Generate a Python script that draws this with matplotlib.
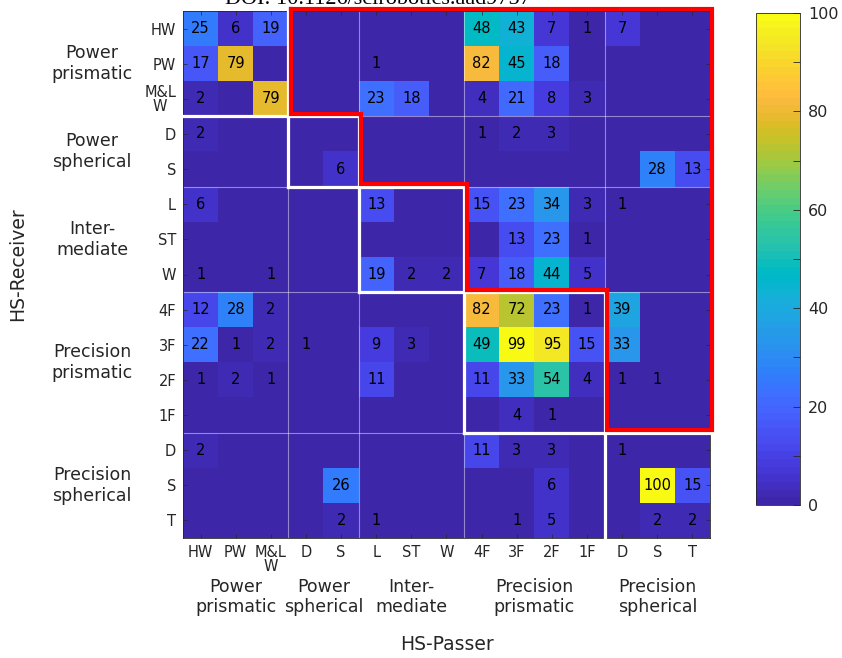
import numpy as np
import matplotlib
matplotlib.use("Agg")
import matplotlib.pyplot as plt
from matplotlib.colors import ListedColormap

# ---- data -------------------------------------------------------------
hand_shapes = ["HW", "PW", "M&L\nW", "D", "S", "L", "ST", "W",
               "4F", "3F", "2F", "1F", "D", "S", "T"]
group_names = ["Power\nprismatic", "Power\nspherical", "Inter-\nmediate",
               "Precision\nprismatic", "Precision\nspherical"]
group_sizes = [3, 2, 3, 4, 3]

# rows: receiver hand shape, columns: passer hand shape (None = no entry)
_ = None
counts = [
    [25, 6, 19, _, _, _, _, _, 48, 43, 7, 1, 7, _, _],      # HW
    [17, 79, _, _, _, 1, _, _, 82, 45, 18, _, _, _, _],     # PW
    [2, _, 79, _, _, 23, 18, _, 4, 21, 8, 3, _, _, _],      # M&L W
    [2, _, _, _, _, _, _, _, 1, 2, 3, _, _, _, _],          # D
    [_, _, _, _, 6, _, _, _, _, _, _, _, _, 28, 13],        # S
    [6, _, _, _, _, 13, _, _, 15, 23, 34, 3, 1, _, _],      # L
    [_, _, _, _, _, _, _, _, _, 13, 23, 1, _, _, _],        # ST
    [1, _, 1, _, _, 19, 2, 2, 7, 18, 44, 5, _, _, _],       # W
    [12, 28, 2, _, _, _, _, _, 82, 72, 23, 1, 39, _, _],    # 4F
    [22, 1, 2, 1, _, 9, 3, _, 49, 99, 95, 15, 33, _, _],    # 3F
    [1, 2, 1, _, _, 11, _, _, 11, 33, 54, 4, 1, 1, _],      # 2F
    [_, _, _, _, _, _, _, _, _, 4, 1, _, _, _, _],          # 1F
    [2, _, _, _, _, _, _, _, 11, 3, 3, _, 1, _, _],         # D
    [_, _, _, _, 26, _, _, _, _, _, 6, _, _, 100, 15],      # S
    [_, _, _, _, 2, 1, _, _, _, 1, 5, _, _, 2, 2],          # T
]

# ---- parula colormap (64 levels) ---------------------------------------
parula_rgb = [
    [0.2422, 0.1504, 0.6603], [0.2504, 0.1650, 0.7076], [0.2578, 0.1818, 0.7511],
    [0.2647, 0.1978, 0.7952], [0.2706, 0.2147, 0.8364], [0.2751, 0.2342, 0.8710],
    [0.2783, 0.2559, 0.8991], [0.2803, 0.2782, 0.9221], [0.2813, 0.3006, 0.9414],
    [0.2810, 0.3228, 0.9579], [0.2795, 0.3447, 0.9717], [0.2760, 0.3667, 0.9829],
    [0.2699, 0.3892, 0.9906], [0.2602, 0.4123, 0.9952], [0.2440, 0.4358, 0.9988],
    [0.2206, 0.4603, 0.9973], [0.1963, 0.4847, 0.9892], [0.1834, 0.5074, 0.9798],
    [0.1786, 0.5289, 0.9682], [0.1764, 0.5499, 0.9520], [0.1687, 0.5703, 0.9359],
    [0.1540, 0.5902, 0.9218], [0.1460, 0.6091, 0.9079], [0.1380, 0.6276, 0.8973],
    [0.1248, 0.6459, 0.8883], [0.1113, 0.6635, 0.8763], [0.0952, 0.6798, 0.8598],
    [0.0689, 0.6948, 0.8394], [0.0297, 0.7082, 0.8163], [0.0036, 0.7203, 0.7917],
    [0.0067, 0.7312, 0.7660], [0.0433, 0.7411, 0.7394], [0.0964, 0.7500, 0.7120],
    [0.1408, 0.7584, 0.6842], [0.1717, 0.7670, 0.6554], [0.1938, 0.7758, 0.6251],
    [0.2161, 0.7843, 0.5923], [0.2470, 0.7918, 0.5567], [0.2906, 0.7973, 0.5188],
    [0.3406, 0.8008, 0.4789], [0.3909, 0.8029, 0.4354], [0.4456, 0.8024, 0.3909],
    [0.5044, 0.7993, 0.3480], [0.5616, 0.7942, 0.3045], [0.6174, 0.7876, 0.2612],
    [0.6720, 0.7793, 0.2227], [0.7242, 0.7698, 0.1910], [0.7738, 0.7598, 0.1646],
    [0.8203, 0.7498, 0.1535], [0.8634, 0.7406, 0.1596], [0.9035, 0.7330, 0.1774],
    [0.9393, 0.7288, 0.2100], [0.9728, 0.7298, 0.2394], [0.9956, 0.7434, 0.2371],
    [0.9970, 0.7659, 0.2199], [0.9952, 0.7893, 0.2028], [0.9892, 0.8136, 0.1885],
    [0.9786, 0.8386, 0.1766], [0.9676, 0.8639, 0.1643], [0.9610, 0.8890, 0.1537],
    [0.9597, 0.9135, 0.1423], [0.9628, 0.9373, 0.1265], [0.9691, 0.9606, 0.1064],
    [0.9769, 0.9839, 0.0805],
]
parula = ListedColormap(parula_rgb, name="parula")

plt.rcParams["font.family"] = ["DejaVu Sans"]
TXT = "#262626"

fig = plt.figure(figsize=(8.42, 6.58), dpi=100)
ax = fig.add_axes([183 / 842, 1 - 538 / 658, 527 / 842, 527 / 658])

n = len(hand_shapes)
grid = np.array([[0 if v is None else v for v in row] for row in counts], float)
im = ax.imshow(grid, cmap=parula, vmin=0, vmax=100, aspect="auto",
               extent=(0, n, n, 0), interpolation="nearest")

# cell values
for i, row in enumerate(counts):
    for j, v in enumerate(row):
        if v is not None:
            ax.text(j + 0.5, i + 0.5, str(v), ha="center", va="center",
                    fontsize=10.5, color="black")

# thin separators between hand-shape groups
edges = np.cumsum(group_sizes)
starts = np.concatenate([[0], edges[:-1]])
for b in edges[:-1]:
    ax.axhline(b, color="white", alpha=0.45, lw=0.8, zorder=2)
    ax.axvline(b, color="white", alpha=0.45, lw=0.8, zorder=2)

# white staircase around the diagonal (same-group) blocks
for k in range(1, len(group_sizes)):
    b = edges[k - 1]
    lo, hi = starts[k - 1], edges[k]
    ax.plot([lo, hi], [b, b], color="white", lw=2.3, zorder=4,
            solid_capstyle="projecting", clip_on=False)
    ax.plot([b, b], [lo, hi], color="white", lw=2.3, zorder=4,
            solid_capstyle="projecting", clip_on=False)

# red outline of the region above the diagonal blocks
d = 0.07
px, py = [edges[0] + d], [-d]
for k in range(len(group_sizes) - 1):
    b_next = edges[k]
    px += [edges[k] + d]
    py += [b_next - d]
    if k + 1 < len(group_sizes) - 1:
        px += [edges[k + 1] + d]
        py += [b_next - d]
px += [n + d, n + d, edges[0] + d]
py += [edges[-2] - d, -d, -d]
ax.plot(px, py, color="#ff0000", lw=3.0, zorder=5, clip_on=False,
        solid_joinstyle="miter")

# axes / ticks
centers = np.arange(n) + 0.5
ax.set_xticks(centers)
ax.set_yticks(centers)
ax.set_xticklabels(hand_shapes, fontsize=10.5, color=TXT, linespacing=0.9,
                   multialignment="center")
ax.set_yticklabels(hand_shapes, fontsize=10.5, color=TXT, linespacing=0.9,
                   multialignment="center")
ax.tick_params(direction="in", length=3, width=0.5, color=TXT,
               top=True, right=True, pad=5)
ax.set_xlim(0, n)
ax.set_ylim(n, 0)
for s in ax.spines.values():
    s.set_color(TXT)
    s.set_linewidth(0.6)

# group labels along both axes
for name, s0, sz in zip(group_names, starts, group_sizes):
    c = s0 + sz / 2
    ax.text(c, -0.112, name, transform=ax.get_xaxis_transform(),
            ha="center", va="center", fontsize=12.5, color=TXT, linespacing=1.2)
    ax.text(-0.1727, c, name, transform=ax.get_yaxis_transform(),
            ha="center", va="center", fontsize=12.5, color=TXT, linespacing=1.2)

fig.text(446.5 / 842, 1 - 645 / 658, "HS-Passer", ha="center", va="center",
         fontsize=13.5, color=TXT)
fig.text(18 / 842, 1 - 264 / 658, "HS-Receiver", ha="center", va="center",
         rotation=90, fontsize=13.5, color=TXT)

# header line (runs off the top edge)
fig.text(378 / 842, 1 - 4 / 658, "DOI: 10.1126/scirobotics.aad9757",
         ha="center", va="baseline", fontsize=16,
         family="Liberation Serif", color="black")

# colour bar
cax = fig.add_axes([756 / 842, 1 - 505 / 658, 44 / 842, 492 / 658])
cb = fig.colorbar(im, cax=cax)
cb.set_ticks(np.arange(0, 101, 20))
cb.ax.set_yticks(np.arange(10, 100, 20), minor=True)
cb.ax.tick_params(which="both", direction="in", length=5, width=0.6,
                  color=TXT, labelsize=11.5, labelcolor=TXT, pad=6)
cb.outline.set_edgecolor(TXT)
cb.outline.set_linewidth(0.6)

fig.savefig("out.png", dpi=100)
